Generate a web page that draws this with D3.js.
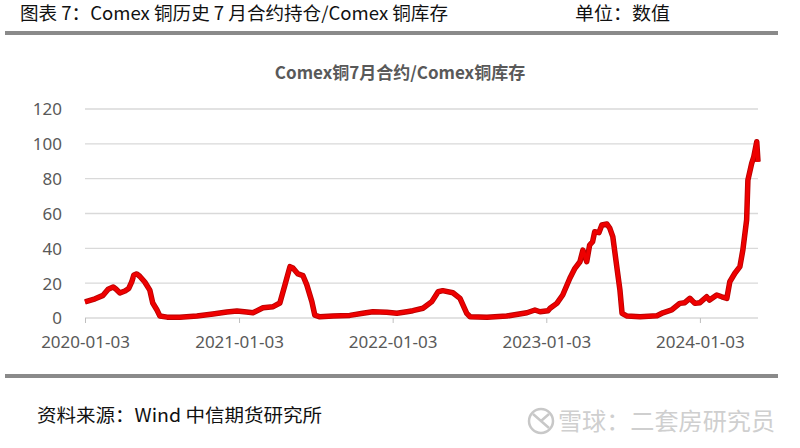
<!DOCTYPE html>
<html><head><meta charset="utf-8">
<script src="https://cdn.jsdelivr.net/npm/d3@7"></script>
<style>
html,body{margin:0;padding:0;background:#fff;}
svg{display:block;}
</style></head>
<body><svg id="c" width="800" height="448"></svg>
<script>
const dates = ["2020-01-03","2020-01-27","2020-02-15","2020-02-27","2020-03-10","2020-03-17","2020-03-26","2020-04-07","2020-04-16","2020-04-23","2020-04-28","2020-05-05","2020-05-12","2020-05-24","2020-06-05","2020-06-12","2020-06-22","2020-06-29","2020-07-16","2020-08-15","2020-09-25","2020-11-02","2020-12-05","2020-12-29","2021-01-21","2021-02-05","2021-03-01","2021-03-25","2021-04-10","2021-04-22","2021-05-04","2021-05-11","2021-05-23","2021-06-04","2021-06-13","2021-06-25","2021-07-02","2021-07-14","2021-08-14","2021-09-23","2021-10-24","2021-11-17","2021-12-20","2022-01-13","2022-02-06","2022-02-20","2022-03-16","2022-04-06","2022-04-21","2022-05-02","2022-05-26","2022-06-12","2022-06-28","2022-07-06","2022-08-15","2022-10-01","2022-11-18","2022-12-07","2022-12-19","2023-01-07","2023-01-12","2023-01-28","2023-02-11","2023-02-28","2023-03-12","2023-03-24","2023-03-31","2023-04-09","2023-04-16","2023-04-23","2023-04-28","2023-05-08","2023-05-15","2023-05-27","2023-06-03","2023-06-10","2023-06-20","2023-06-27","2023-07-02","2023-07-14","2023-08-14","2023-09-23","2023-10-07","2023-10-28","2023-11-16","2023-11-28","2023-12-10","2023-12-22","2024-01-03","2024-01-19","2024-01-26","2024-02-12","2024-02-24","2024-03-07","2024-03-14","2024-03-26","2024-04-07","2024-04-14","2024-04-23","2024-04-26","2024-05-05","2024-05-10","2024-05-17","2024-05-20"];
const values = [9.2,11,13,16.5,17.8,16.5,14.4,15.5,17,20.7,24.7,25.3,24,20.7,16,8.6,4.6,1.1,0.5,0.4,1.1,2.3,3.4,4,3.4,3,5.9,6.5,8.6,19,29.5,28.7,25.3,24.3,19,9.4,1.7,0.7,1.1,1.5,2.7,3.6,3.3,2.7,3.6,4.2,5.6,9.4,15.1,15.7,14.5,11.3,2.7,0.7,0.4,1.1,3,4.6,3.6,4.2,5.6,8.4,13.2,22.8,28.5,32.3,39,32.3,41.9,43.8,49.5,49,53.4,54,51.5,46.7,28.5,16,2.7,1.1,0.7,1.3,3,4.6,8.4,8.8,11.3,8.4,8.8,12.2,10.3,13.2,12.2,11.3,20.8,25.7,29.5,39,56.3,79.2,88.8,92.6,101.2,89.7];
const xTickLabels = ["2020-01-03","2021-01-03","2022-01-03","2023-01-03","2024-01-03"];
const yTicks = [0,20,40,60,80,100,120];
const chartTitle = "Comex铜7月合约/Comex铜库存";
const headerTitle = "图表 7：Comex 铜历史 7 月合约持仓/Comex 铜库存";
const unitText = "单位：数值";
const sourceText = "资料来源：Wind 中信期货研究所";
const watermarkText = "雪球：二套房研究员";

const parse = d3.timeParse("%Y-%m-%d");
const data = dates.map((d,i)=>({date:parse(d), value:values[i]}));
const svg = d3.select("#c");
const cjk = "'Noto Sans CJK SC','Noto Sans',sans-serif";
const lat = "'Noto Sans','Open Sans',sans-serif";

const x = d3.scaleTime().domain([parse("2020-01-03"), parse("2024-05-20")]).range([85, 758]);
const y = d3.scaleLinear().domain([0,120]).range([318, 109]);

// header
svg.append("text").attr("x",20).attr("y",20).attr("font-family",cjk).attr("font-size",18)
  .attr("fill","#111").attr("textLength",428).attr("lengthAdjust","spacingAndGlyphs").text(headerTitle);
svg.append("text").attr("x",575).attr("y",20).attr("font-family",cjk).attr("font-size",18)
  .attr("fill","#111").attr("textLength",95).attr("lengthAdjust","spacingAndGlyphs").text(unitText);
svg.append("rect").attr("x",5).attr("y",31).attr("width",773).attr("height",4).attr("fill","#8a8a8a");
svg.append("rect").attr("x",5).attr("y",374).attr("width",773).attr("height",4).attr("fill","#8a8a8a");

// chart title
svg.append("text").attr("x",400).attr("y",79).attr("text-anchor","middle").attr("font-family",cjk)
  .attr("font-size",17).attr("font-weight","bold").attr("fill","#595959").text(chartTitle);

// grid
const g = svg.append("g");
g.selectAll("line.grid").data(yTicks).join("line").attr("class","grid")
  .attr("x1",85).attr("x2",758).attr("y1",d=>y(d)).attr("y2",d=>y(d))
  .attr("stroke","#d9d9d9").attr("stroke-width",1.3);

// y labels
const yAxis = d3.axisLeft(y).tickValues(yTicks).tickSize(0).tickPadding(0);
const ya = svg.append("g").attr("transform","translate(62,0)").call(yAxis);
ya.select(".domain").remove();
ya.selectAll("text").attr("font-family",lat).attr("font-size",17).attr("fill","#595959").attr("dy","0.35em");

// x axis
const xa = svg.append("g").attr("transform","translate(0,318)")
  .call(d3.axisBottom(x).tickValues(xTickLabels.map(parse)).tickFormat(d3.timeFormat("%Y-%m-%d")).tickSize(5).tickPadding(13));
xa.select(".domain").remove();
xa.selectAll("line").attr("stroke","#bfbfbf");
xa.selectAll("text").attr("font-family",lat).attr("font-size",17).attr("fill","#595959");

// line
const line = d3.line().x(d=>x(d.date)).y(d=>y(d.value));
svg.append("path").datum(data).attr("d",line).attr("fill","none")
  .attr("stroke","#b80000").attr("stroke-width",5.5).attr("stroke-linejoin","round");
svg.append("path").datum(data).attr("d",line).attr("fill","none")
  .attr("stroke","#ee0000").attr("stroke-width",3.8).attr("stroke-linejoin","round");

// footer
svg.append("text").attr("x",37).attr("y",422).attr("font-family",cjk).attr("font-size",18)
  .attr("fill","#111").attr("textLength",285).attr("lengthAdjust","spacingAndGlyphs").text(sourceText);
// watermark
const wm = svg.append("g");
wm.append("circle").attr("cx",541).attr("cy",421).attr("r",12).attr("fill","none").attr("stroke","#c8c8c8").attr("stroke-width",2.5);
wm.append("path").attr("d","M533,414 L549,428 M549,414 L541,421").attr("stroke","#c8c8c8").attr("stroke-width",2.5).attr("fill","none");
wm.append("text").attr("x",558).attr("y",430).attr("font-family",cjk).attr("font-size",24)
  .attr("fill","#cfcfcf").attr("textLength",217).attr("lengthAdjust","spacingAndGlyphs").text(watermarkText);
</script></body></html>
